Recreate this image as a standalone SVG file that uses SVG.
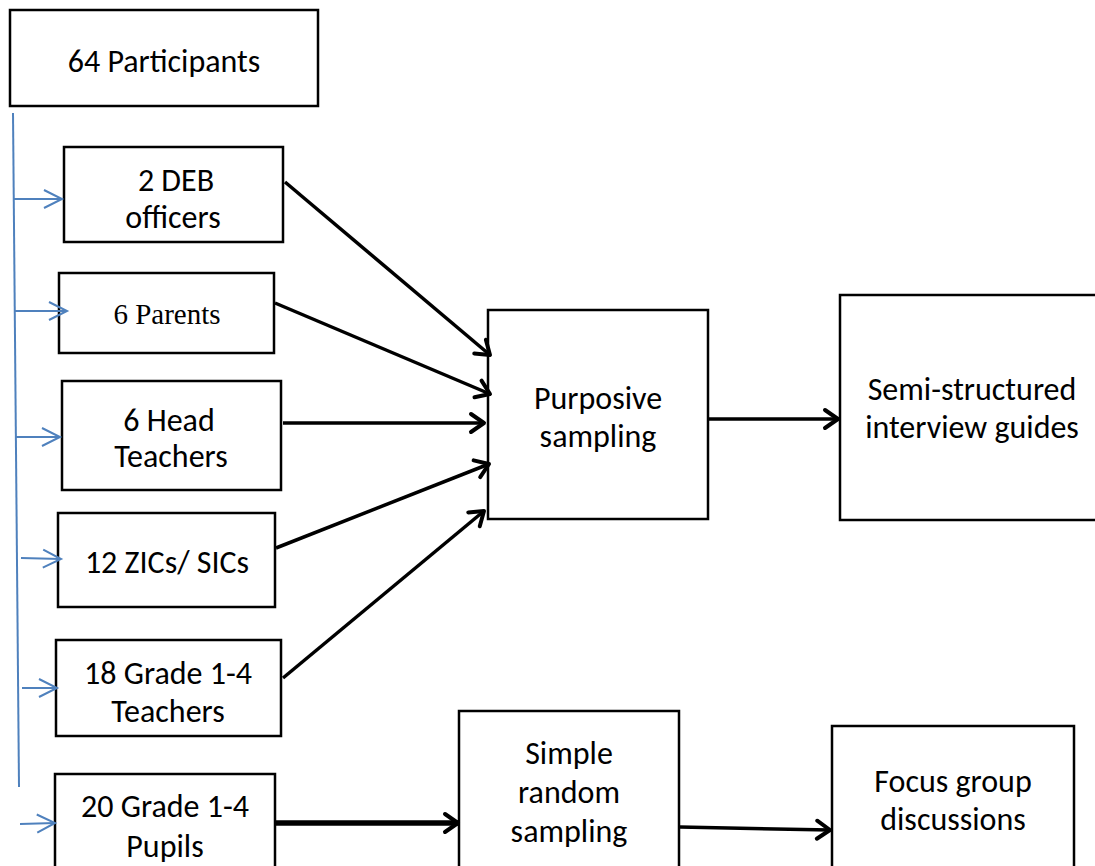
<svg xmlns="http://www.w3.org/2000/svg" width="1095" height="866" viewBox="0 0 1095 866">
<style>
.box{fill:#fff;stroke:#000;stroke-width:2.5}
.t{font-family:Carlito,Lato,"Liberation Sans",sans-serif;font-size:32px;fill:#000;text-anchor:middle}
.ts{font-family:"Liberation Serif",serif;font-size:29px;fill:#000;text-anchor:middle}
.c{stroke:#000;stroke-width:3.5;fill:none}
.b{stroke:#4f81bd;stroke-width:2;fill:none}
</style>
<defs>
<marker id="ah" markerUnits="userSpaceOnUse" markerWidth="24" markerHeight="24" refX="16" refY="10" orient="auto" overflow="visible">
<path d="M3,1 L16,10 L3,19" fill="none" stroke="#000" stroke-width="4" stroke-linecap="round" stroke-linejoin="round"/>
</marker>
<marker id="bh" markerUnits="userSpaceOnUse" markerWidth="24" markerHeight="24" refX="18" refY="9" orient="auto" overflow="visible">
<path d="M0,0 L18,9 L0,18" fill="none" stroke="#4f81bd" stroke-width="2"/>
</marker>
</defs>
<g id="participants"><rect class="box" x="10" y="10" width="308" height="96"/><text class="t" x="164" y="72">64 Participants</text></g>
<g id="deb"><rect class="box" x="64" y="147" width="219" height="95"/><text class="t" x="176" y="191">2 DEB</text><text class="t" x="173" y="228">officers</text></g>
<g id="parents"><rect class="box" x="59" y="273" width="215" height="80"/><text class="ts" x="167" y="324">6 Parents</text></g>
<g id="head"><rect class="box" x="62" y="381" width="219" height="109"/><text class="t" x="169" y="431">6 Head</text><text class="t" x="171" y="467">Teachers</text></g>
<g id="zics"><rect class="box" x="58" y="513" width="217" height="94"/><text class="t" x="167" y="573">12 ZICs/ SICs</text></g>
<g id="teachers"><rect class="box" x="56" y="640" width="225" height="96"/><text class="t" x="168" y="684">18 Grade 1-4</text><text class="t" x="168" y="722">Teachers</text></g>
<g id="pupils"><rect class="box" x="55" y="774" width="220" height="110"/><text class="t" x="165" y="817">20 Grade 1-4</text><text class="t" x="165" y="857">Pupils</text></g>
<g id="purposive"><rect class="box" x="488" y="310" width="220" height="209"/><text class="t" x="598" y="409">Purposive</text><text class="t" x="598" y="447">sampling</text></g>
<g id="semi"><rect class="box" x="840" y="295" width="270" height="225"/><text class="t" x="972" y="400">Semi-structured</text><text class="t" x="972" y="438">interview guides</text></g>
<g id="random"><rect class="box" x="459" y="711" width="220" height="170"/><text class="t" x="569" y="764">Simple</text><text class="t" x="569" y="803">random</text><text class="t" x="569" y="842">sampling</text></g>
<g id="focus"><rect class="box" x="832" y="726" width="242" height="160"/><text class="t" x="953" y="792">Focus group</text><text class="t" x="953" y="830">discussions</text></g>
<g id="connectors">
<path class="b" d="M13,113 L19,787"/>
<path class="b" d="M14,199 L62,199" marker-end="url(#bh)"/>
<path class="b" d="M15,311 L67,311" marker-end="url(#bh)"/>
<path class="b" d="M16,437 L60,437" marker-end="url(#bh)"/>
<path class="b" d="M21,558 L61,559" marker-end="url(#bh)"/>
<path class="b" d="M22,688 L57,688" marker-end="url(#bh)"/>
<path class="b" d="M20,824 L55,823" marker-end="url(#bh)"/>
<path class="c" d="M285,182 L490,355" marker-end="url(#ah)"/>
<path class="c" d="M275,303 L490,394" marker-end="url(#ah)"/>
<path class="c" d="M283,423 L484,423" marker-end="url(#ah)"/>
<path class="c" d="M276,548 L489,464" marker-end="url(#ah)"/>
<path class="c" d="M283,678 L484,511" marker-end="url(#ah)"/>
<path class="c" d="M708,419 L838,419" marker-end="url(#ah)"/>
<path class="c" d="M275,823 L458,823" style="stroke-width:5.5" marker-end="url(#ah)"/>
<path class="c" d="M680,827 L830,830" marker-end="url(#ah)"/>
</g>
</svg>
